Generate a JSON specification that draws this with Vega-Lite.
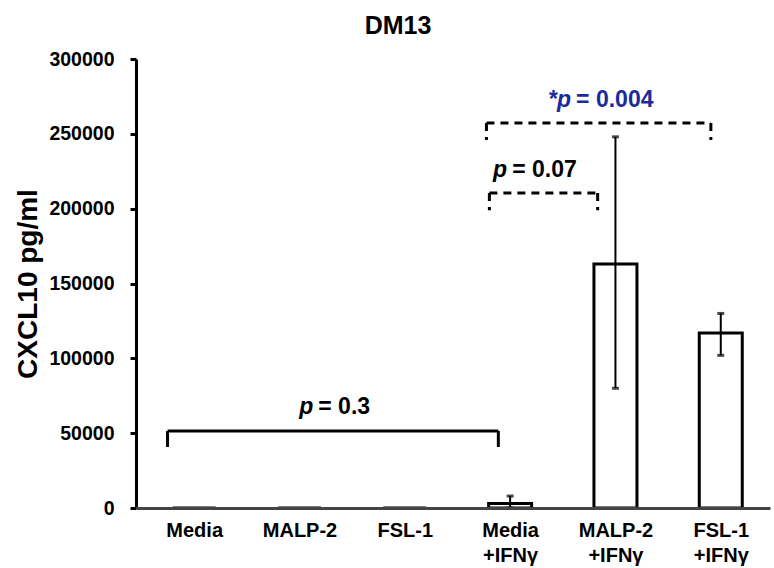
{
  "$schema": "https://vega.github.io/schema/vega-lite/v6.json",
  "width": 634,
  "height": 449,
  "autosize": "none",
  "padding": {"left": 136, "top": 59, "right": 4, "bottom": 60},
  "background": "white",
  "config": {"view": {"stroke": null}, "font": "Liberation Sans"},
  "title": {"text": "DM13", "fontSize": 25, "font": "Liberation Sans", "fontWeight": "bold", "anchor": "middle", "dx": -55, "offset": 10, "color": "black"},
  "datasets": {
    "bars": [
      {"group": "Media", "pos": 0, "mean": 0, "lo": null, "hi": null},
      {"group": "MALP-2", "pos": 1, "mean": 0, "lo": null, "hi": null},
      {"group": "FSL-1", "pos": 2, "mean": 0, "lo": null, "hi": null},
      {"group": "Media +IFNγ", "pos": 3, "mean": 3000, "lo": 0, "hi": 8000},
      {"group": "MALP-2 +IFNγ", "pos": 4, "mean": 163000, "lo": 80000, "hi": 248000},
      {"group": "FSL-1 +IFNγ", "pos": 5, "mean": 117000, "lo": 102000, "hi": 130000}
    ],
    "segs": [
      {"x": -0.253, "x2": 2.888, "y": 51500, "y2": 51500, "style": "solid"},
      {"x": -0.253, "x2": -0.253, "y": 51500, "y2": 40700, "style": "solid"},
      {"x": 2.888, "x2": 2.888, "y": 51500, "y2": 40700, "style": "solid"},
      {"x": 2.803, "x2": 3.831, "y": 210400, "y2": 210400, "style": "dashed"},
      {"x": 2.803, "x2": 2.803, "y": 210400, "y2": 199000, "style": "dashed"},
      {"x": 3.831, "x2": 3.831, "y": 210400, "y2": 199000, "style": "dashed"},
      {"x": 2.775, "x2": 4.906, "y": 257200, "y2": 257200, "style": "dashed"},
      {"x": 2.775, "x2": 2.775, "y": 257200, "y2": 245800, "style": "dashed"},
      {"x": 4.906, "x2": 4.906, "y": 257200, "y2": 245800, "style": "dashed"}
    ],
    "labels": [
      {"x": 1.131, "y": 67500, "pre": "p", "post": "= 0.3", "col": "black"},
      {"x": 2.972, "y": 225800, "pre": "p", "post": "= 0.07", "col": "black"},
      {"x": 3.579, "y": 272500, "pre": "*p", "post": "= 0.004", "col": "#1c2a9c"}
    ]
  },
  "layer": [
    {
      "data": {"name": "bars"},
      "mark": {"type": "bar", "width": 43, "fill": "white", "stroke": "black", "strokeWidth": 3},
      "encoding": {
        "x": {
          "field": "pos", "type": "quantitative", "title": null,
          "scale": {"domain": [-0.505, 5.42], "nice": false, "zero": false},
          "axis": {
            "title": null, "grid": false, "ticks": false, "values": [0, 1, 2, 3, 4, 5],
            "labelExpr": "[['Media'],['MALP-2'],['FSL-1'],['Media','+IFNγ'],['MALP-2','+IFNγ'],['FSL-1','+IFNγ']][datum.value]",
            "labelFontSize": 20, "labelFontWeight": "bold", "labelColor": "black",
            "labelPadding": 12, "labelLineHeight": 25, "labelOverlap": false, "labelBound": false, "labelFlush": false,
            "domainColor": "#444444", "domainWidth": 3, "zindex": 1
          }
        },
        "y": {
          "field": "mean", "type": "quantitative", "title": "CXCL10 pg/ml",
          "scale": {"domain": [0, 300000], "nice": false},
          "axis": {
            "title": "CXCL10 pg/ml", "titleFontSize": 28, "titleFontWeight": "bold", "titleColor": "black", "titlePadding": 6,
            "values": [0, 50000, 100000, 150000, 200000, 250000, 300000], "format": "d",
            "grid": false, "labelFontSize": 19.5, "labelFontWeight": "bold", "labelColor": "black", "labelPadding": 16,
            "tickSize": 6, "tickWidth": 3, "tickColor": "black", "domainColor": "black", "domainWidth": 3
          }
        }
      }
    },
    {
      "data": {"name": "bars"},
      "transform": [{"filter": "datum.hi != null"}],
      "mark": {"type": "errorbar", "orient": "vertical", "color": "black", "thickness": 2, "ticks": {"size": 7, "thickness": 3, "color": "black"}},
      "encoding": {
        "x": {"field": "pos", "type": "quantitative", "title": null},
        "y": {"field": "lo", "type": "quantitative", "title": "CXCL10 pg/ml"},
        "y2": {"field": "hi"}
      }
    },
    {
      "data": {"name": "segs"},
      "mark": {"type": "rule", "strokeWidth": 3, "color": "black"},
      "encoding": {
        "x": {"field": "x", "type": "quantitative", "title": null},
        "x2": {"field": "x2"},
        "y": {"field": "y", "type": "quantitative", "title": "CXCL10 pg/ml"},
        "y2": {"field": "y2"},
        "strokeDash": {"field": "style", "type": "nominal", "scale": {"domain": ["solid", "dashed"], "range": [[1, 0], [8, 6]]}, "legend": null}
      }
    },
    {
      "data": {"name": "labels"},
      "mark": {"type": "text", "align": "right", "baseline": "middle", "fontSize": 23, "fontWeight": "bold", "fontStyle": "italic"},
      "encoding": {
        "x": {"field": "x", "type": "quantitative", "title": null},
        "y": {"field": "y", "type": "quantitative", "title": "CXCL10 pg/ml"},
        "text": {"field": "pre"},
        "color": {"field": "col", "type": "nominal", "scale": null}
      }
    },
    {
      "data": {"name": "labels"},
      "mark": {"type": "text", "align": "left", "baseline": "middle", "fontSize": 23, "fontWeight": "bold", "dx": 5},
      "encoding": {
        "x": {"field": "x", "type": "quantitative", "title": null},
        "y": {"field": "y", "type": "quantitative", "title": "CXCL10 pg/ml"},
        "text": {"field": "post"},
        "color": {"field": "col", "type": "nominal", "scale": null}
      }
    }
  ]
}
